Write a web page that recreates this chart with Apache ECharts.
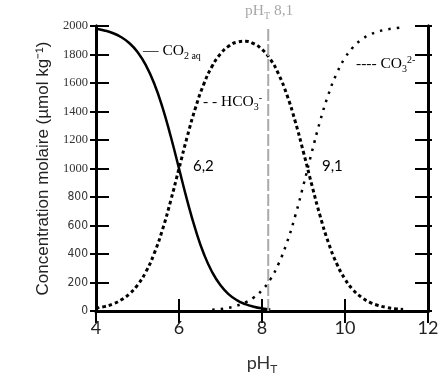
<!DOCTYPE html>
<html><head><meta charset="utf-8">
<script src="https://cdn.jsdelivr.net/npm/echarts@6/dist/echarts.min.js"></script>
<style>html,body{margin:0;padding:0;background:#fff}#c{width:447px;height:380px}</style>
</head><body><div id="c"></div>
<script>
const phCO2 = [4,4.2,4.4,4.6,4.8,5,5.2,5.4,5.6,5.8,6,6.2,6.4,6.6,6.8,7,7.2,7.4,7.6,7.8,8,8.2];
const co2 = [1980,1969,1951,1923,1881,1818,1726,1598,1431,1226,1000,773,569,400,272,180,117,75,48,30,18,11];
const phHCO3 = [4,4.2,4.4,4.6,4.8,5,5.2,5.4,5.6,5.8,6,6.2,6.4,6.6,6.8,7,7.2,7.4,7.6,7.8,8,8.2,8.4,8.6,8.8,9,9.2,9.4,9.6,9.8,10,10.2,10.4,10.6,10.8,11,11.2,11.4];
const hco3 = [20,31,49,77,119,182,274,402,569,774,1000,1225,1428,1594,1719,1805,1859,1887,1893,1876,1836,1767,1662,1517,1331,1114,885,668,480,333,224,147,96,61,39,25,16,10];
const phCO3 = [6.8,7,7.2,7.4,7.6,7.8,8,8.2,8.4,8.6,8.8,9,9.2,9.4,9.6,9.8,10,10.2,10.4,10.6,10.8,11,11.2,11.4];
const co3 = [9,14,23,38,60,94,146,222,332,480,667,885,1114,1332,1519,1667,1776,1853,1905,1939,1961,1975,1984,1990];
const phLine = 8.15;
const xTicks = [4,6,8,10,12];
const yTicks = [0,200,400,600,800,1000,1200,1400,1600,1800,2000];

const pairs = (xs, ys) => xs.map((x, i) => [x, ys[i]]);
const serif = 'Liberation Serif';
const chart = echarts.init(document.getElementById('c'));
const axisCommon = {
  min: xTicks[0], max: xTicks[xTicks.length - 1], interval: 2,
  axisLine: {lineStyle: {color: '#000', width: 3}},
  axisTick: {inside: true, length: 12, lineStyle: {color: '#000', width: 2}},
  splitLine: {show: false}
};
const yBase = (extra) => Object.assign({
  type: 'value', min: yTicks[0], max: yTicks[yTicks.length - 1], interval: 200,
  axisLine: {show: true, lineStyle: {color: '#000', width: 3}},
  splitLine: {show: false}
}, extra);
const FS = 15.5;
const subRich = {
  m: {fontFamily: serif, fontSize: FS, fill: '#000', lineHeight: 17},
  s: {fontFamily: serif, fontSize: 10, fill: '#000', lineHeight: 10, padding: [9, 0, 0, 0], verticalAlign: 'top'},
  p: {fontFamily: serif, fontSize: 10, fill: '#000', lineHeight: 10, padding: [0, 0, 9, 0], verticalAlign: 'top'},
  gm: {fontFamily: serif, fontSize: FS, fill: '#a8a8a8', lineHeight: 17},
  gs: {fontFamily: serif, fontSize: 10, fill: '#a8a8a8', lineHeight: 10, padding: [9, 0, 0, 0], verticalAlign: 'top'}
};
chart.setOption({
  animation: false,
  grid: {left: 96, right: 19, top: 26, bottom: 69},
  xAxis: [
    Object.assign({type: 'value', position: 'bottom',
      name: '{a|pH}{b|T}', nameLocation: 'middle', nameGap: 42,
      nameTextStyle: {rich: {
        a: {fontFamily: 'Lato', fontSize: 18, color: '#333', lineHeight: 20},
        b: {fontFamily: 'Lato', fontSize: 12, color: '#333', lineHeight: 12, padding: [10,0,0,0], verticalAlign: 'top'}}},
      axisLabel: {fontFamily: 'Lato', fontSize: 18, color: '#222', margin: 8}}, axisCommon),
    Object.assign({type: 'value', position: 'top', axisLabel: {show: false}}, axisCommon)
  ],
  yAxis: [
    yBase({position: 'left',
      name: 'Concentration molaire (µmol kg⁻¹)', nameLocation: 'middle', nameGap: 43,
      nameTextStyle: {fontFamily: 'Liberation Sans', fontSize: 17, color: '#222'},
      axisTick: {show: true, inside: true, length: 13, lineStyle: {color: '#000', width: 2}},
      axisLabel: {margin: 8,
        formatter: v => (v >= 1000 ? '{a|' + v + '}' : '{b|' + v + '}'),
        rich: {
          a: {fontFamily: serif, fontSize: 12.5, color: '#333'},
          b: {fontFamily: "'DejaVu Sans Condensed','Liberation Sans Narrow',sans-serif", fontSize: 12, color: '#333'}
        }}}),
    yBase({position: 'right', axisLabel: {show: false},
      axisTick: {show: true, inside: true, length: 13, lineStyle: {color: '#000', width: 2}}}),
    yBase({position: 'left', axisLabel: {show: false},
      axisTick: {show: true, inside: false, length: 6, lineStyle: {color: '#000', width: 2}}}),
    yBase({position: 'right', axisLabel: {show: false},
      axisTick: {show: true, inside: false, length: 4, lineStyle: {color: '#000', width: 2}}})
  ],
  series: [
    {type: 'line', data: pairs(phCO2, co2), smooth: true, symbol: 'none',
     lineStyle: {color: '#000', width: 2.5}},
    {type: 'line', data: pairs(phHCO3, hco3), smooth: true, symbol: 'none',
     lineStyle: {color: '#000', width: 3, type: [3.5, 3]}},
    {type: 'line', data: pairs(phCO3, co3), smooth: true, symbol: 'none',
     lineStyle: {color: '#000', width: 2.5, type: [2.5, 6]}},
    {type: 'line', data: [[phLine, 0], [phLine, 2000]], symbol: 'none',
     lineStyle: {color: '#aaa', width: 2, type: [12, 3]}}
  ],
  graphic: [
    {type: 'text', left: 143, top: 42, style: {rich: subRich, text: '{m|— CO}{s|2 aq}'}},
    {type: 'text', left: 203, top: 93, style: {rich: subRich, text: '{m|- - HCO}{s|3}{p|-}'}},
    {type: 'text', left: 356, top: 55, style: {rich: subRich, text: '{m|---- CO}{s|3}{p|2-}'}},
    {type: 'text', left: 245, top: 2, style: {rich: subRich, text: '{gm|pH}{gs|T}{gm| 8,1}'}},
    {type: 'text', left: 193, top: 159, style: {text: '6,2', fontFamily: 'Lato', fontSize: 15, fill: '#000'}},
    {type: 'text', left: 322, top: 159, style: {text: '9,1', fontFamily: 'Lato', fontSize: 15, fill: '#000'}}
  ]
});
</script></body></html>
